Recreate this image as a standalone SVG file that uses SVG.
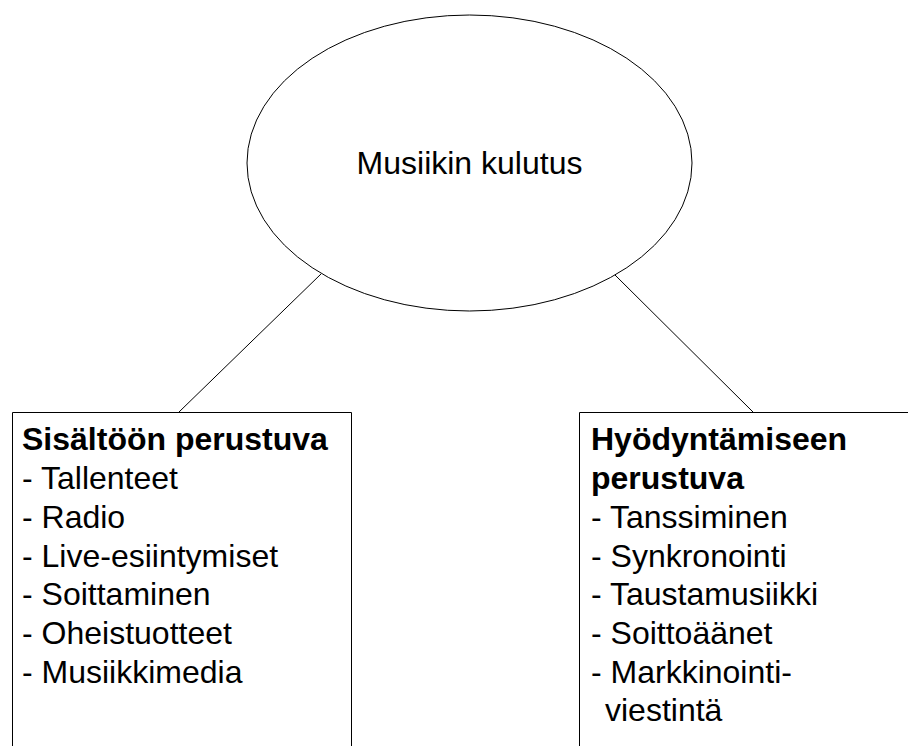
<svg xmlns="http://www.w3.org/2000/svg" width="908" height="746" viewBox="0 0 908 746">
<style>
.shape{fill:#fff;stroke:#000;stroke-width:1}
.box{fill:none;stroke:#000;stroke-width:1}
.conn{stroke:#000;stroke-width:1;fill:none}
text{font-family:"Liberation Sans",Arial,sans-serif;font-size:32px;fill:#000}
.b{font-weight:bold}
</style>
<rect width="908" height="746" fill="#fff"/>
<g id="connectors">
<line class="conn" x1="321" y1="274" x2="179" y2="412"/>
<line class="conn" x1="615" y1="275" x2="753" y2="412"/>
</g>
<g id="node-root">
<ellipse class="shape" cx="469.5" cy="163" rx="222.5" ry="148"/>
<text x="469.5" y="174" text-anchor="middle">Musiikin kulutus</text>
</g>
<g id="node-left">
<path class="box" d="M12.5,747 V412.5 H351.5 V747"/>
<text class="b" x="22" y="450">Sisältöön perustuva</text>
<text x="22" y="489">- Tallenteet</text>
<text x="22" y="528">- Radio</text>
<text x="22" y="567">- Live-esiintymiset</text>
<text x="22" y="605">- Soittaminen</text>
<text x="22" y="644">- Oheistuotteet</text>
<text x="22" y="683">- Musiikkimedia</text>
</g>
<g id="node-right">
<path class="box" d="M579.5,747 V412.5 H910"/>
<text class="b" x="591" y="450">Hyödyntämiseen</text>
<text class="b" x="591" y="489">perustuva</text>
<text x="591" y="528">- Tanssiminen</text>
<text x="591" y="567">- Synkronointi</text>
<text x="591" y="605">- Taustamusiikki</text>
<text x="591" y="644">- Soittoäänet</text>
<text x="591" y="683">- Markkinointi-</text>
<text x="605" y="721">viestintä</text>
</g>
</svg>
